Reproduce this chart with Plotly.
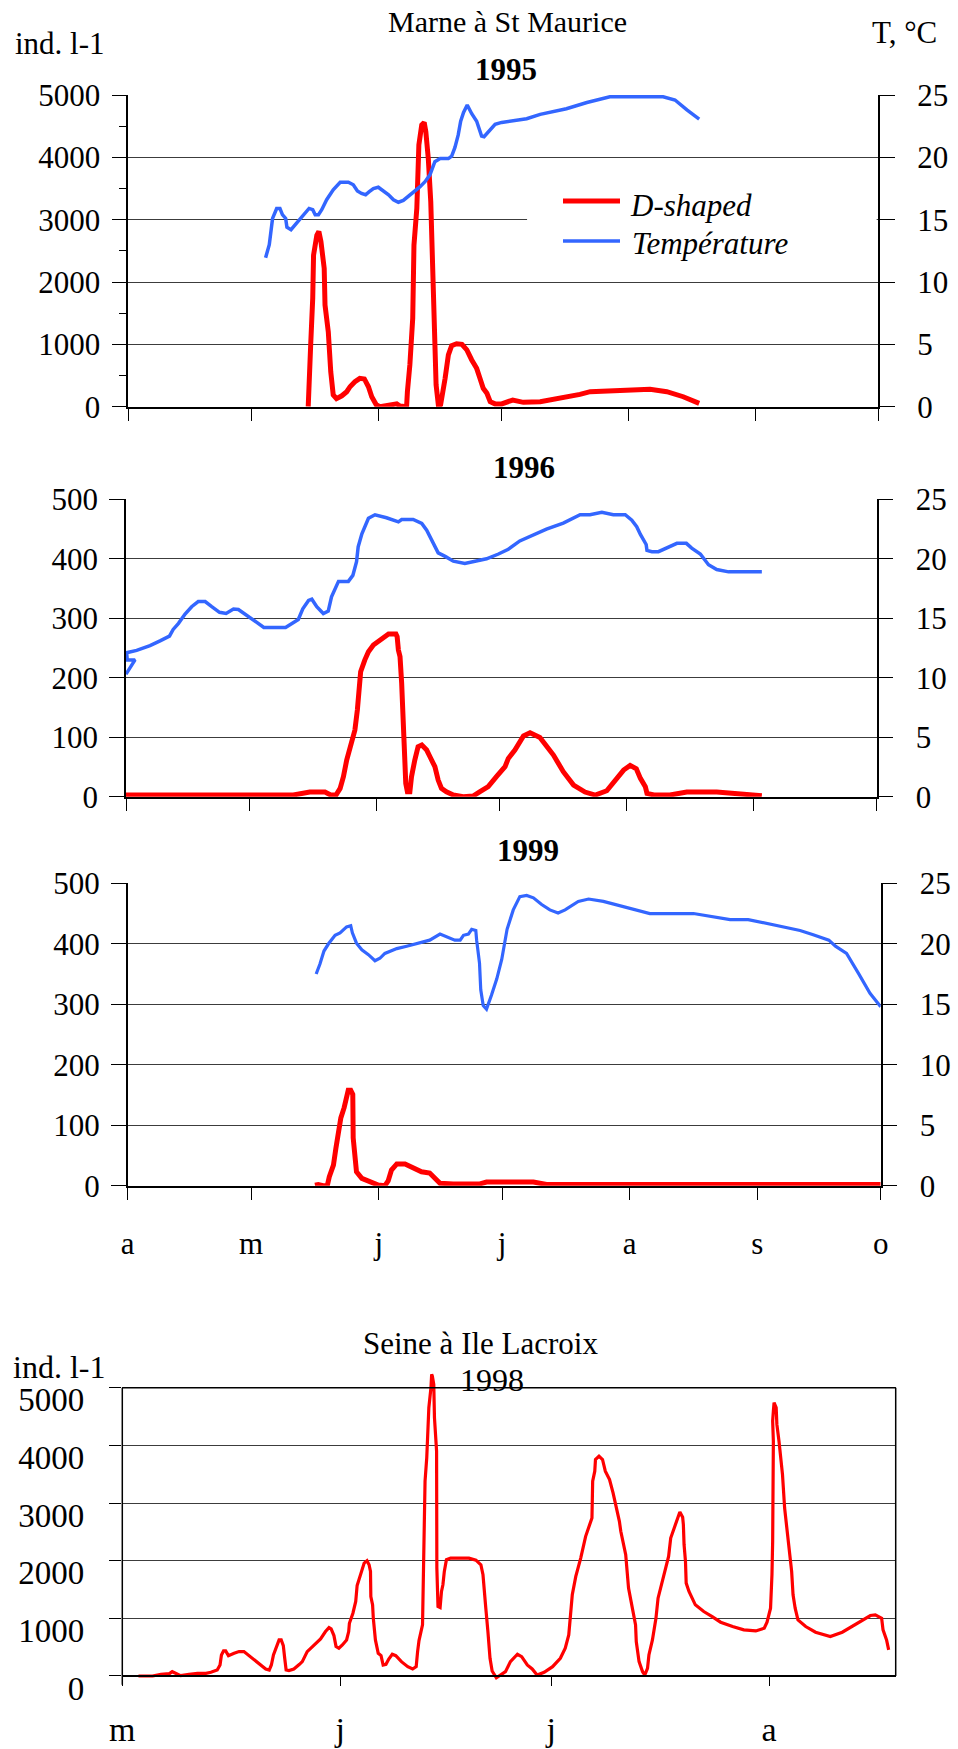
import plotly.graph_objects as go

W, H = 958, 1749
SERIF = "Liberation Serif, Times New Roman, serif"
RED = "#FF0000"
BLUE = "#3366FF"
GRID = "#3c3c3c"

# ---------------- data ----------------
# x axes: days since 1 April (Marne) / days since 1 May (Seine)
months_ao_days = [0, 30, 61, 91, 122, 153, 183]
months_ao_text = ["a", "m", "j", "j", "a", "s", "o"]
months_ma_days = [0, 31, 61, 92]
months_ma_text = ["m", "j", "j", "a"]

# Marne 1995 - D-shaped (ind. l-1)
d95_day = [43.9, 44.2, 44.5, 45.0, 45.2, 46.0, 46.5, 47.0, 47.4, 47.8, 48.0, 48.8, 49.4, 50.0, 50.8,
           52.1, 53.3, 54.1, 55.3, 56.5, 57.6, 58.6, 59.4, 60.5, 61.4, 63.9, 65.5, 66.3, 67.9, 68.1,
           68.7, 69.4, 69.7, 70.4, 70.9, 71.6, 72.2, 72.6, 73.2, 73.8, 74.1, 74.3, 74.6, 75.1, 75.7,
           76.2, 77.3, 78.1, 78.9, 80.1, 81.4, 82.6, 83.8, 85.0, 85.8, 86.6, 87.5, 88.3, 89.5, 91.1,
           93.8, 96.4, 100.5, 105.3, 110.2, 112.7, 117.5, 121.6, 127.3, 131.4, 135.4, 139.3]
d95_val = [0, 350, 990, 1740, 2430, 2750, 2810, 2650, 2490, 2220, 1630, 1200, 560, 190, 130,
           175, 240, 320, 400, 455, 445, 320, 160, 30, 0, 25, 45, 10, 0, 240,
           670, 1420, 2590, 3180, 4200, 4520, 4560, 4410, 3980, 3290, 2490, 1740, 990, 350, 0,
           30, 455, 830, 980, 1010, 1000, 910, 750, 615, 455, 295, 215, 80, 45, 45,
           107, 70, 80, 134, 198, 241, 251, 278, 278, 241, 160, 53]
# Marne 1995 - temperature (deg C)
t95_day = [33.5, 34.4, 35.2, 36.2, 37.0, 37.6, 38.4, 38.7, 39.7, 40.7, 42.3, 43.3, 44.1, 45.0, 45.6,
           46.4, 47.2, 48.4, 50.0, 51.7, 53.7, 54.9, 55.9, 56.9, 57.9, 58.8, 59.8, 61.0, 62.2, 63.5,
           64.7, 65.9, 67.1, 68.1, 69.6, 71.2, 72.4, 73.6, 74.8, 76.1, 78.1, 78.9, 79.7, 80.5, 81.1,
           81.8, 82.7, 83.8, 85.0, 85.8, 86.2, 86.8, 87.9, 89.5, 91.1, 93.1, 97.2, 100.5, 106.9, 111.9,
           117.5, 123.2, 130.5, 133.4, 136.3, 139.3]
t95_val = [11.95, 13.0, 15.1, 15.9, 15.9, 15.4, 15.1, 14.4, 14.2, 14.6, 15.2, 15.6, 15.9, 15.8, 15.4,
           15.4, 15.8, 16.6, 17.4, 18.0, 18.0, 17.8, 17.3, 17.1, 17.0, 17.25, 17.5, 17.6, 17.3, 17.0,
           16.6, 16.4, 16.55, 16.8, 17.2, 17.65, 18.05, 18.6, 19.65, 19.9, 19.9, 20.1, 20.8, 21.8, 22.9,
           23.6, 24.2, 23.5, 22.9, 22.2, 21.7, 21.65, 22.05, 22.65, 22.8, 22.9, 23.1, 23.45, 23.9, 24.4,
           24.85, 24.85, 24.85, 24.6, 23.8, 23.07]

# Marne 1996
d96_day = [0, 18.9, 20.5, 24.5, 27.0, 40.8, 44.8, 48.5, 49.9, 51.2, 52.2, 53.0, 53.8, 55.0, 55.8,
           56.4, 56.9, 57.2, 58.2, 59.1, 60.3, 61.9, 64.0, 65.8, 66.1, 66.4, 66.8, 67.2, 67.6, 67.8,
           68.2, 68.6, 69.2, 69.6, 70.4, 71.2, 72.1, 73.3, 74.1, 75.3, 76.1, 76.9, 78.1, 79.8, 82.2,
           84.6, 86.3, 88.3, 90.3, 92.4, 93.2, 94.8, 96.9, 98.5, 100.9, 104.2, 106.6, 109.1, 111.9, 114.4,
           117.2, 119.2, 121.3, 122.9, 124.4, 125.4, 126.6, 127.0, 128.7, 132.6, 136.7, 144.0, 155.0]
d96_val = [2.8, 2.8, 4.5, 4.5, 2.8, 2.8, 7.8, 7.8, 2.8, 2.8, 14, 33.6, 61.6, 89.6, 112,
           145.7, 179, 210, 229.7, 243.7, 254.9, 264, 273.4, 273.4, 268.9, 246.5, 235.3, 190.5, 145.7, 89.6,
           22.4, 8.4, 8.4, 33.6, 61.6, 84, 86.8, 78.4, 67.2, 50.4, 28, 14, 8.4, 2.8, 0,
           1.1, 8.4, 16.8, 33.6, 50.4, 64.4, 78.4, 102, 107.6, 99.7, 70, 42, 19.6, 7.8, 2.8,
           10, 28, 44.8, 52.7, 47, 30.8, 16.8, 5.6, 2.8, 2.8, 7.8, 7.8, 1.7]
t96_day = [0.0, 2.2, 0.3, 0.15, 2.6, 5.85, 8.3, 10.6, 11.5, 12.8, 14.4, 16.0, 17.6, 19.3, 20.9,
           22.8, 24.4, 26.2, 27.4, 28.8, 30.4, 31.9, 33.6, 38.9, 40.4, 42.0, 43.1, 44.5, 45.3, 46.5,
           48.1, 49.3, 50.1, 50.95, 51.8, 54.2, 55.3, 56.2, 56.6, 57.5, 58.7, 59.1, 60.7, 63.5, 66.4,
           67.2, 70.0, 72.1, 73.3, 74.5, 76.1, 77.8, 79.8, 82.6, 85.5, 87.9, 90.8, 93.2, 96.0, 99.3,
           102.5, 106.6, 110.7, 113.1, 116.0, 118.8, 121.7, 123.3, 124.5, 125.4, 126.8, 127.0, 128.2, 129.8, 131.8,
           134.3, 136.6, 137.9, 140.0, 142.0, 144.0, 146.9, 155.0]
t96_val = [10.3, 11.5, 11.5, 12.1, 12.3, 12.7, 13.1, 13.5, 14.06, 14.57, 15.35, 15.97, 16.4, 16.4, 15.97,
           15.5, 15.4, 15.77, 15.74, 15.4, 14.93, 14.65, 14.23, 14.23, 14.57, 14.9, 15.8, 16.5, 16.6, 15.97,
           15.4, 15.6, 16.8, 17.4, 18.1, 18.1, 18.6, 19.75, 21.0, 22.1, 22.97, 23.4, 23.7, 23.45, 23.1,
           23.3, 23.3, 22.97, 22.4, 21.6, 20.5, 20.2, 19.8, 19.6, 19.8, 20.0, 20.4, 20.8, 21.5, 22.0,
           22.5, 23.0, 23.7, 23.7, 23.9, 23.7, 23.7, 23.25, 22.7, 22.05, 21.2, 20.7, 20.6, 20.6, 20.9,
           21.3, 21.3, 20.9, 20.4, 19.5, 19.1, 18.9, 18.9]

# Marne 1999
d99_day = [45.5, 46.3, 47.5, 48.5, 49.0, 50.0, 50.6, 51.2, 51.8, 52.6, 53.2, 53.6, 54.2, 54.7, 54.8,
           55.2, 55.6, 56.9, 58.5, 60.9, 62.5, 63.3, 64.1, 65.4, 67.4, 69.0, 71.4, 73.4, 74.7, 75.9,
           79.1, 85.6, 87.2, 88.9, 90.9, 93.7, 98.6, 101.8, 183.0]
d99_val = [1, 2, 0, 0, 15, 34, 62, 84, 112, 129, 148, 158, 158, 151, 79,
           46, 23, 12, 7, 1, 0, 8, 26, 36, 36, 30, 23, 21, 12, 4,
           3, 3, 6, 6, 8, 7, 6, 2, 2]
t99_day = [45.8, 46.7, 47.7, 48.8, 50.4, 51.6, 53.2, 54.2, 54.6, 55.6, 56.9, 58.5, 60.1, 61.3, 62.5,
           64.1, 65.4, 67.8, 71.0, 73.4, 75.9, 77.9, 79.5, 80.8, 81.6, 82.8, 83.6, 84.6, 84.8, 85.5,
           85.8, 86.4, 87.2, 88.4, 89.7, 90.9, 92.2, 93.7, 95.3, 96.95, 98.6, 100.6, 102.6, 104.6, 106.3,
           109.5, 112.0, 115.6, 121.3, 126.9, 137.5, 140.7, 146.4, 150.8, 155.3, 159.3, 163.4, 166.6, 170.4, 172.0,
           174.7, 177.6, 180.4, 183.0]
t99_val = [17.5, 18.3, 19.4, 20.0, 20.7, 20.9, 21.4, 21.5, 20.9, 20.05, 19.5, 19.1, 18.6, 18.8, 19.2,
           19.4, 19.6, 19.8, 20.05, 20.3, 20.8, 20.5, 20.3, 20.3, 20.7, 20.8, 21.2, 21.1, 20.3, 18.4,
           16.2, 14.9, 14.6, 15.75, 17.1, 18.7, 21.2, 22.8, 23.9, 24.0, 23.8, 23.25, 22.8, 22.55, 22.8,
           23.5, 23.7, 23.5, 23.0, 22.5, 22.5, 22.3, 22.0, 22.0, 21.7, 21.4, 21.1, 20.75, 20.3, 19.8,
           19.2, 17.55, 15.9, 14.8]

# Seine 1998 - D-shaped
d98_day = [2.3, 4.3, 5.5, 6.7, 7.1, 7.6, 8.3, 9.5, 10.7, 11.9, 12.6, 13.5, 13.9, 14.1, 14.4,
           14.7, 15.1, 15.9, 16.6, 17.3, 17.9, 18.8, 19.7, 20.4, 20.9, 21.2, 21.5, 21.8, 22.3, 22.6,
           22.9, 23.1, 23.3, 23.7, 24.4, 25.2, 25.6, 26.3, 27.3, 28.2, 28.9, 29.4, 29.7, 30.1, 30.4,
           30.8, 31.3, 31.9, 32.2, 32.3, 32.8, 33.2, 33.4, 33.9, 34.4, 34.8, 35.1, 35.3, 35.35, 35.6,
           35.7, 36.0, 36.4, 36.8, 37.0, 37.1, 37.5, 37.9, 38.4, 38.9, 39.7, 40.6, 41.3, 41.8, 42.0,
           42.2, 42.7, 42.9, 43.06, 43.3, 43.4, 43.6, 43.9, 44.0, 44.1, 44.3, 44.4, 44.7, 44.72, 44.74,
           44.9, 45.2, 45.4, 45.6, 45.8, 46.1, 46.7, 49.3, 50.3, 51.0, 51.3, 51.5, 51.7, 52.0, 52.3,
           52.6, 53.2, 54.5, 55.2, 56.2, 56.8, 57.6, 58.3, 59.0, 60.0, 61.2, 62.3, 63.0, 63.5, 64.0,
           64.5, 65.2, 65.9, 66.8, 66.9, 67.2, 67.3, 67.8, 68.3, 68.7, 69.3, 69.8, 70.7, 70.9, 71.6,
           72.0, 72.6, 73.0, 73.1, 73.5, 74.0, 74.3, 74.7, 74.9, 75.4, 75.9, 76.2, 76.8, 77.3, 77.7,
           78.0, 78.5, 79.0, 79.3, 79.7, 79.8, 79.9, 80.1, 80.2, 80.6, 81.5, 82.7, 83.9, 85.1, 86.8,
           88.4, 90.1, 91.3, 91.7, 92.2, 92.4, 92.5, 92.6, 92.5, 92.6, 92.7, 93.0, 93.1, 93.4, 93.9,
           94.2, 94.6, 94.8, 95.2, 95.4, 95.7, 96.1, 97.2, 98.6, 100.7, 102.4, 103.8, 105.0, 106.4, 107.1,
           108.0, 108.2, 108.7, 109.0]
d98_val = [0, 0, 29, 41, 75, 46, 6, 29, 46, 46, 64, 104, 191, 365, 435,
           435, 353, 394, 423, 423, 365, 261, 180, 122, 104, 191, 365, 469, 626, 626,
           527, 307, 104, 93, 122, 203, 249, 423, 539, 643, 771, 840, 817, 701, 510,
           481, 539, 626, 771, 915, 1089, 1292, 1570, 1785, 1958, 1999, 1929, 1814, 1379, 1234,
           1002, 626, 394, 353, 249, 191, 203, 295, 377, 353, 249, 162, 122, 162, 423,
           614, 886, 2335, 3378, 3784, 4189, 4653, 5000, 5230, 5200, 5058, 4479, 3900, 2914, 1871,
           1205, 1188, 1466, 1582, 1814, 2016, 2045, 2045, 2010, 1929, 1756, 1524, 1176, 771, 307,
           87, -30, 75, 249, 377, 336, 191, 122, 17, 64, 162, 307, 481, 713, 1408,
           1727, 2045, 2422, 2741, 3378, 3552, 3755, 3813, 3755, 3552, 3407, 3175, 2683, 2509, 2103,
           1524, 1176, 886, 597, 249, 75, 17, 133, 365, 626, 1002, 1350, 1640, 1871, 2074,
           2393, 2567, 2741, 2845, 2752, 2625, 2277, 1987, 1611, 1466, 1234, 1118, 1031, 933, 858,
           800, 782, 829, 933, 1176, 1756, 2335, 4073, 4421, 4595, 4739, 4653, 4363, 4073, 3494,
           2914, 2509, 2219, 1814, 1408, 1176, 973, 858, 759, 684, 759, 858, 944, 1049, 1060,
           1002, 800, 626, 452]

# ---------------- layout geometry (pixels) ----------------
def fx(p):
    return p / W


def fy(p):
    return 1 - p / H


# plot boxes: left, right, top, bottom (pixels)
P1 = (128.3, 878.3, 95.0, 406.7)
P2 = (126.0, 876.7, 499.3, 796.7)
P3 = (127.7, 880.7, 883.3, 1185.7)
P4_LR = (122.3, 895.7)
P4_TOP5000, P4_ZERO = 1387.7, 1676.0
P4_RANGE = (-280, 5260)
p4_scale = (P4_ZERO - P4_TOP5000) / 5000.0
P4_TOP = P4_ZERO - P4_RANGE[1] * p4_scale
P4_BOT = P4_ZERO - P4_RANGE[0] * p4_scale

tickfont = dict(family=SERIF, size=31, color="black")

fig = go.Figure()


def line(x, y, xa, ya, color, width, name):
    fig.add_trace(go.Scatter(x=x, y=y, xaxis=xa, yaxis=ya, mode="lines", name=name,
                             line=dict(color=color, width=width), showlegend=False,
                             hoverinfo="skip"))


line(t95_day, t95_val, "x", "y2", BLUE, 3.5, "Température")
line(d95_day, d95_val, "x", "y", RED, 5, "D-shaped")
line(t96_day, t96_val, "x2", "y4", BLUE, 3.5, "Température")
line(d96_day, d96_val, "x2", "y3", RED, 5, "D-shaped")
line(t99_day, t99_val, "x3", "y6", BLUE, 3.2, "Température")
line(d99_day, d99_val, "x3", "y5", RED, 5, "D-shaped")
line(d98_day, d98_val, "x4", "y7", RED, 3.2, "D-shaped")


def xaxis(box, anchor, show_labels):
    return dict(domain=[fx(box[0]), fx(box[1])], anchor=anchor, range=[0, 183],
                tickmode="array", tickvals=months_ao_days, ticktext=months_ao_text,
                showticklabels=show_labels, ticks="outside", ticklen=13, tickcolor="black",
                tickwidth=1, showline=True, linecolor="black", linewidth=1.5,
                showgrid=False, zeroline=False, tickfont=dict(family=SERIF, size=31, color="black"),
                ticklabelstandoff=16)


def yleft(box, anchor, top, dtick, minor=None):
    d = dict(domain=[fy(box[3]), fy(box[2])], anchor=anchor, range=[0, top],
             tickmode="linear", tick0=0, dtick=dtick, ticks="outside", ticklen=15,
             tickcolor="black", showgrid=True, gridcolor=GRID, gridwidth=1,
             showline=True, linecolor="black", linewidth=1.5, zeroline=False,
             tickfont=tickfont, ticklabelstandoff=5)
    if minor:
        d["minor"] = minor
    return d


def yright(over, anchor):
    return dict(overlaying=over, side="right", anchor=anchor, range=[0, 25],
                tickmode="linear", tick0=0, dtick=5, ticks="outside", ticklen=15,
                tickcolor="black", showgrid=False, showline=True, linecolor="black",
                linewidth=1.5, zeroline=False, tickfont=tickfont, ticklabelstandoff=16)


label_shift = 12 / p4_scale  # Seine panel: labels sit slightly below their gridlines
seine_ticks = [0, 1000, 2000, 3000, 4000, 5000]

fig.update_layout(
    width=W, height=H, margin=dict(l=0, r=0, t=0, b=0),
    paper_bgcolor="white", plot_bgcolor="white", template="none",
    showlegend=False,
    xaxis=xaxis(P1, "y", False),
    yaxis=yleft(P1, "x", 5000, 1000,
                minor=dict(dtick=500, ticks="outside", ticklen=8, tickcolor="black", showgrid=False)),
    yaxis2=yright("y", "x"),
    xaxis2=xaxis(P2, "y3", False),
    yaxis3=yleft(P2, "x2", 500, 100),
    yaxis4=yright("y3", "x2"),
    xaxis3=xaxis(P3, "y5", True),
    yaxis5=yleft(P3, "x3", 500, 100),
    yaxis6=yright("y5", "x3"),
    xaxis4=dict(domain=[fx(P4_LR[0]), fx(P4_LR[1])], anchor="free", position=fy(P4_ZERO),
                range=[0, 110], tickmode="array", tickvals=months_ma_days, ticktext=months_ma_text,
                ticks="outside", ticklen=9, tickcolor="black", showline=True, linecolor="black",
                linewidth=1.5, showgrid=False, zeroline=False,
                tickfont=dict(family=SERIF, size=34, color="black"), ticklabelstandoff=14),
    yaxis7=dict(domain=[fy(P4_BOT), fy(P4_TOP)], anchor="x4", range=list(P4_RANGE),
                tickmode="array", tickvals=[v - label_shift for v in seine_ticks],
                ticktext=[str(v) for v in seine_ticks], ticks="", showgrid=False,
                showline=False, zeroline=False,
                tickfont=dict(family=SERIF, size=33, color="black"), ticklabelstandoff=37,
                minor=dict(tickvals=seine_ticks, ticks="outside", ticklen=12, tickcolor="black",
                           showgrid=True, gridcolor=GRID, gridwidth=1)),
)

shapes = []
# Seine frame
for (x0, x1, y0, y1) in [(0, 0, -150, 5000), (1, 1, 0, 5000), (0, 1, 5000, 5000)]:
    shapes.append(dict(type="line", xref="x4 domain", yref="y7", x0=x0, x1=x1, y0=y0, y1=y1,
                       line=dict(color="black", width=1.5)))
# legend background (hides the gridline) and legend keys for the 1995 panel
shapes.append(dict(type="rect", xref="x", yref="y", x0=97.3, x1=182.6, y0=2330, y1=3660,
                   fillcolor="white", line=dict(width=0), layer="between"))
shapes.append(dict(type="line", xref="paper", yref="paper", x0=fx(563), x1=fx(620),
                   y0=fy(201), y1=fy(201), line=dict(color=RED, width=5)))
shapes.append(dict(type="line", xref="paper", yref="paper", x0=fx(563), x1=fx(620),
                   y0=fy(241), y1=fy(241), line=dict(color=BLUE, width=3.5)))
fig.update_layout(shapes=shapes)


def text(s, x, y, size, xanchor="center", bold=False, italic=False):
    return dict(text=s, x=fx(x), y=fy(y), xref="paper", yref="paper", showarrow=False,
                xanchor=xanchor, yanchor="middle",
                font=dict(family=SERIF, size=size, color="black",
                          weight="bold" if bold else "normal",
                          style="italic" if italic else "normal"))


fig.update_layout(annotations=[
    text("Marne à St Maurice", 507, 22, 30),
    text("ind. l-1", 13, 44, 31, xanchor="left"),
    text("T, °C", 870, 33, 31, xanchor="left"),
    text("1995", 506, 69, 31, bold=True),
    text("1996", 524, 467, 31, bold=True),
    text("1999", 528, 851, 31, bold=True),
    text("D-shaped", 628, 205, 31, xanchor="left", italic=True),
    text("Température", 630, 244, 31, xanchor="left", italic=True),
    text("Seine à Ile Lacroix", 480, 1343, 31),
    text("1998", 492, 1380, 32),
    text("ind. l-1", 11, 1367, 32, xanchor="left"),
])

fig.write_html("out.html")
